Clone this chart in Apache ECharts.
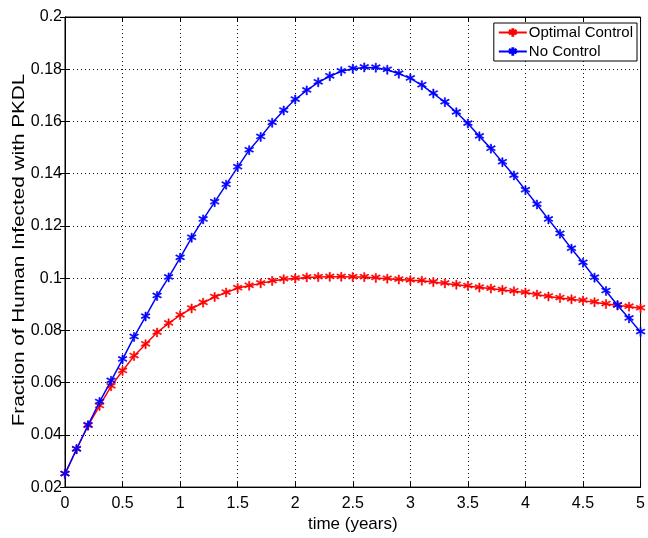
<!DOCTYPE html>
<html>
<head>
<meta charset="utf-8">
<style>
  html, body { margin: 0; padding: 0; background: #fff; }
  #chart { width: 648px; height: 538px; }
</style>
<script src="https://cdn.jsdelivr.net/npm/echarts@6/dist/echarts.min.js"></script>
</head>
<body>
<div id="chart"></div>
<script>
// time grid in years (step 0.1)
const timeYears = [
  0, 0.1, 0.2, 0.3, 0.4, 0.5, 0.6, 0.7, 0.8, 0.9,
  1.0, 1.1, 1.2, 1.3, 1.4, 1.5, 1.6, 1.7, 1.8, 1.9,
  2.0, 2.1, 2.2, 2.3, 2.4, 2.5, 2.6, 2.7, 2.8, 2.9,
  3.0, 3.1, 3.2, 3.3, 3.4, 3.5, 3.6, 3.7, 3.8, 3.9,
  4.0, 4.1, 4.2, 4.3, 4.4, 4.5, 4.6, 4.7, 4.8, 4.9, 5.0
];

// fraction of humans infected with PKDL, with optimal control
const optimalControl = [
  0.0250, 0.0345, 0.0435, 0.0511, 0.0586, 0.0645, 0.0702, 0.0747, 0.0792, 0.0827,
  0.0858, 0.0884, 0.0906, 0.0928, 0.0945, 0.0962, 0.0971, 0.0980, 0.0989, 0.0996,
  0.0999, 0.1003, 0.1004, 0.1005, 0.1005, 0.1004, 0.1004, 0.1001, 0.0998, 0.0995,
  0.0992, 0.0990, 0.0985, 0.0980, 0.0975, 0.0970, 0.0964, 0.0960, 0.0955, 0.0950,
  0.0945, 0.0937, 0.0930, 0.0924, 0.0919, 0.0914, 0.0908, 0.0901, 0.0896, 0.0891, 0.0885
];

// fraction of humans infected with PKDL, without control
const noControl = [
  0.0250, 0.0345, 0.0437, 0.0526, 0.0607, 0.0689, 0.0775, 0.0853, 0.0932, 0.1003,
  0.1078, 0.1155, 0.1225, 0.1291, 0.1358, 0.1425, 0.1490, 0.1541, 0.1595, 0.1642,
  0.1684, 0.1719, 0.1750, 0.1773, 0.1792, 0.1802, 0.1807, 0.1806, 0.1798, 0.1783,
  0.1765, 0.1739, 0.1707, 0.1674, 0.1635, 0.1592, 0.1543, 0.1496, 0.1444, 0.1393,
  0.1337, 0.1282, 0.1225, 0.1170, 0.1113, 0.1059, 0.1002, 0.0951, 0.0896, 0.0846, 0.0794
];

const seriesNames = ['Optimal Control', 'No Control'];
const seriesColors = ['#ff0000', '#0000ff'];
const yTitle = 'Fraction of Human Infected with PKDL';

const pair = (ys) => timeYears.map((t, i) => [t, ys[i]]);

// bold six-armed asterisk marker
const starPath = 'path://M-1.2,-10L1.2,-10L1.2,-3L7.9,-6.8L9.1,-4.8L2.4,-1L9.1,2.8L7.9,4.8L1.2,1L1.2,10L-1.2,10L-1.2,1L-7.9,4.8L-9.1,2.8L-2.4,-1L-9.1,-4.8L-7.9,-6.8L-1.2,-3Z';

const FONT = 'Liberation Sans, Arial, sans-serif';
const dotted = { color: '#111', width: 1, type: [1, 3] };

const chart = echarts.init(document.getElementById('chart'), null, { renderer: 'canvas' });

const mkSeries = (k, ys) => ({
  name: seriesNames[k],
  type: 'line',
  data: pair(ys),
  symbol: starPath,
  symbolSize: 9,
  showSymbol: true,
  lineStyle: { color: seriesColors[k], width: 1.5 },
  itemStyle: { color: seriesColors[k], borderColor: seriesColors[k], borderWidth: 0.6 },
  emphasis: { disabled: true },
  animation: false,
  z: 3 + k
});

chart.setOption({
  backgroundColor: '#fff',
  animation: false,
  grid: {
    left: 65, right: 6, top: 17, bottom: 50,
    show: true, borderColor: '#000', borderWidth: 1, backgroundColor: 'transparent'
  },
  legend: {
    data: seriesNames,
    orient: 'vertical',
    right: 11, top: 23,
    itemWidth: 28, itemHeight: 8, itemGap: 4,
    padding: [2, 4, 2, 4],
    backgroundColor: '#fff',
    borderColor: '#000', borderWidth: 1,
    textStyle: { fontFamily: FONT, fontSize: 15, color: '#000', padding: [0, 0, 0, -3] }
  },
  xAxis: [{
    type: 'value', min: 0, max: 5, interval: 0.5,
    name: 'time (years)', nameLocation: 'middle', nameGap: 27,
    nameTextStyle: { fontFamily: FONT, fontSize: 17, color: '#000' },
    axisLine: { show: true, onZero: false, lineStyle: { color: '#000', width: 1 } },
    axisTick: { show: true, inside: true, length: 5, lineStyle: { color: '#000' } },
    axisLabel: { fontFamily: FONT, fontSize: 16, color: '#000', margin: 8 },
    splitLine: { show: true, lineStyle: dotted }
  }, {
    type: 'value', min: 0, max: 5, interval: 0.5, position: 'top',
    axisLine: { show: true, lineStyle: { color: '#000', width: 1 } },
    axisTick: { show: true, inside: true, length: 5, lineStyle: { color: '#000' } },
    axisLabel: { show: false }, splitLine: { show: false }
  }],
  yAxis: [{
    type: 'value', min: 0.02, max: 0.2, interval: 0.02,
    axisLine: { show: true, onZero: false, lineStyle: { color: '#000', width: 1 } },
    axisTick: { show: true, inside: true, length: 5, lineStyle: { color: '#000' } },
    axisLabel: {
      fontFamily: FONT, fontSize: 16, color: '#000', margin: 3,
      formatter: (v) => String(parseFloat(v.toFixed(2)))
    },
    splitLine: { show: true, lineStyle: dotted }
  }, {
    type: 'value', min: 0.02, max: 0.2, interval: 0.02, position: 'right',
    axisLine: { show: true, lineStyle: { color: '#000', width: 1 } },
    axisTick: { show: true, inside: true, length: 5, lineStyle: { color: '#000' } },
    axisLabel: { show: false }, splitLine: { show: false }
  }],
  // vertical axis title, stretched along its length
  graphic: [{
    type: 'text',
    x: 19, y: 250,
    rotation: Math.PI / 2,
    scaleX: 1.22,
    style: {
      text: yTitle, fontFamily: FONT, fontSize: 17, fill: '#000',
      align: 'center', verticalAlign: 'middle'
    }
  }],
  series: [mkSeries(0, optimalControl), mkSeries(1, noControl)]
});
</script>
</body>
</html>
